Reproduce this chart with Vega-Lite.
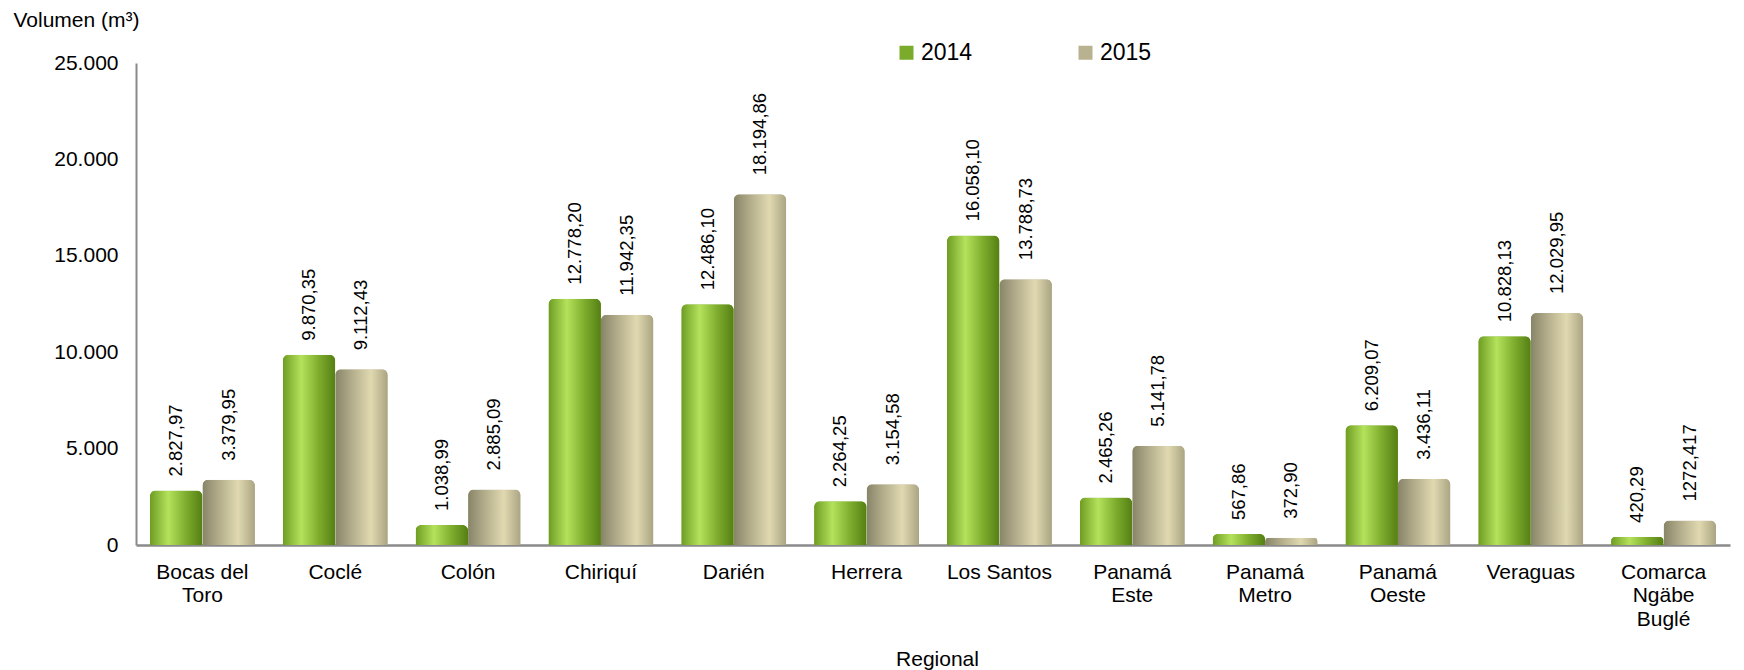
{
  "$schema": "https://vega.github.io/schema/vega-lite/v6.json",
  "autosize": {"type": "none"},
  "padding": {"left": 136, "top": 63, "right": 14, "bottom": 125},
  "width": 1594,
  "height": 482,
  "background": "white",
  "config": {
    "font": "Liberation Sans",
    "view": {"stroke": null},
    "text": {"font": "Liberation Sans"}
  },
  "data": {
    "values": [
      {"regional": "Bocas del Toro", "year": "2014", "volumen": 2827.97, "label": "2.827,97"},
      {"regional": "Bocas del Toro", "year": "2015", "volumen": 3379.95, "label": "3.379,95"},
      {"regional": "Coclé", "year": "2014", "volumen": 9870.35, "label": "9.870,35"},
      {"regional": "Coclé", "year": "2015", "volumen": 9112.43, "label": "9.112,43"},
      {"regional": "Colón", "year": "2014", "volumen": 1038.99, "label": "1.038,99"},
      {"regional": "Colón", "year": "2015", "volumen": 2885.09, "label": "2.885,09"},
      {"regional": "Chiriquí", "year": "2014", "volumen": 12778.20, "label": "12.778,20"},
      {"regional": "Chiriquí", "year": "2015", "volumen": 11942.35, "label": "11.942,35"},
      {"regional": "Darién", "year": "2014", "volumen": 12486.10, "label": "12.486,10"},
      {"regional": "Darién", "year": "2015", "volumen": 18194.86, "label": "18.194,86"},
      {"regional": "Herrera", "year": "2014", "volumen": 2264.25, "label": "2.264,25"},
      {"regional": "Herrera", "year": "2015", "volumen": 3154.58, "label": "3.154,58"},
      {"regional": "Los Santos", "year": "2014", "volumen": 16058.10, "label": "16.058,10"},
      {"regional": "Los Santos", "year": "2015", "volumen": 13788.73, "label": "13.788,73"},
      {"regional": "Panamá Este", "year": "2014", "volumen": 2465.26, "label": "2.465,26"},
      {"regional": "Panamá Este", "year": "2015", "volumen": 5141.78, "label": "5.141,78"},
      {"regional": "Panamá Metro", "year": "2014", "volumen": 567.86, "label": "567,86"},
      {"regional": "Panamá Metro", "year": "2015", "volumen": 372.90, "label": "372,90"},
      {"regional": "Panamá Oeste", "year": "2014", "volumen": 6209.07, "label": "6.209,07"},
      {"regional": "Panamá Oeste", "year": "2015", "volumen": 3436.11, "label": "3.436,11"},
      {"regional": "Veraguas", "year": "2014", "volumen": 10828.13, "label": "10.828,13"},
      {"regional": "Veraguas", "year": "2015", "volumen": 12029.95, "label": "12.029,95"},
      {"regional": "Comarca Ngäbe Buglé", "year": "2014", "volumen": 420.29, "label": "420,29"},
      {"regional": "Comarca Ngäbe Buglé", "year": "2015", "volumen": 1272.417, "label": "1272,417"}
    ]
  },
  "encoding": {
    "x": {
      "field": "regional",
      "type": "nominal",
      "sort": null,
      "scale": {"paddingInner": 0.21, "paddingOuter": 0.105},
      "axis": {
        "title": "Regional",
        "titleFontSize": 21,
        "titleFontWeight": "normal",
        "titleColor": "black",
        "titleX": 801,
        "titleY": 114,
        "titleBaseline": "middle",
        "titleAnchor": null,
        "titleAlign": "center",
        "labelAngle": 0,
        "labelFontSize": 21,
        "labelColor": "black",
        "labelPadding": 16,
        "labelLineHeight": 23.5,
        "labelBaseline": "top",
        "labelLimit": 300,
        "labelExpr": "datum.label == 'Bocas del Toro' ? ['Bocas del', 'Toro'] : (datum.label == 'Los Santos' ? datum.label : split(datum.label, ' '))",
        "ticks": false,
        "domainColor": "#8a8a8a",
        "domainWidth": 2.5,
        "grid": false
      }
    },
    "xOffset": {"field": "year", "type": "nominal", "scale": {"paddingInner": 0, "paddingOuter": 0}},
    "y": {
      "field": "volumen",
      "type": "quantitative",
      "scale": {"domain": [0, 25000], "nice": false},
      "axis": {
        "title": "Volumen (m³)",
        "titleFontSize": 21,
        "titleFontWeight": "normal",
        "titleColor": "black",
        "titleAngle": 0,
        "titleAlign": "left",
        "titleBaseline": "middle",
        "titleAnchor": null,
        "titleX": -123,
        "titleY": -43,
        "values": [0, 5000, 10000, 15000, 20000, 25000],
        "labelExpr": "replace(format(datum.value, ','), ',', '.')",
        "labelFontSize": 21,
        "labelColor": "black",
        "labelPadding": 18,
        "ticks": false,
        "grid": false,
        "domainColor": "#8a8a8a",
        "domainWidth": 2
      }
    }
  },
  "layer": [
    {
      "mark": {"type": "bar", "cornerRadiusTopLeft": 6, "cornerRadiusTopRight": 6},
      "encoding": {
        "color": {
          "field": "year",
          "type": "nominal",
          "scale": {"domain": ["2014", "2015"], "range": ["#7aab2a", "#b9b290"]},
          "legend": {
            "title": null,
            "orient": "none",
            "direction": "horizontal",
            "legendX": 759,
            "legendY": -22,
            "symbolType": "square",
            "symbolSize": 196,
            "symbolStrokeWidth": 0,
            "labelFontSize": 23,
            "labelColor": "black",
            "labelOffset": 3,
            "columnPadding": 101,
            "padding": 0
          }
        }
      }
    },
    {
      "mark": {"type": "bar", "cornerRadiusTopLeft": 6, "cornerRadiusTopRight": 6},
      "encoding": {
        "color": {
          "condition": {
            "test": "datum.year == '2014'",
            "value": {
              "gradient": "linear", "x1": 0, "x2": 1, "y1": 0, "y2": 0,
              "stops": [
                {"offset": 0, "color": "#6e9c22"},
                {"offset": 0.35, "color": "#b4e25c"},
                {"offset": 0.7, "color": "#7cab2c"},
                {"offset": 1, "color": "#557f14"}
              ]
            }
          },
          "value": {
            "gradient": "linear", "x1": 0, "x2": 1, "y1": 0, "y2": 0,
            "stops": [
              {"offset": 0, "color": "#878468"},
              {"offset": 0.3, "color": "#b1ab8a"},
              {"offset": 0.68, "color": "#e0d9b0"},
              {"offset": 1, "color": "#aaa483"}
            ]
          }
        }
      }
    },
    {
      "transform": [{"filter": "datum.year == '2014'"}],
      "mark": {"type": "text", "angle": 270, "align": "left", "baseline": "middle", "dx": 14, "fontSize": 18.5, "color": "black"},
      "encoding": {
        "text": {"field": "label", "type": "nominal"}
      }
    },
    {
      "transform": [{"filter": "datum.year == '2015'"}],
      "mark": {"type": "text", "angle": 270, "align": "left", "baseline": "middle", "dx": 19, "fontSize": 18.5, "color": "black"},
      "encoding": {
        "text": {"field": "label", "type": "nominal"}
      }
    }
  ]
}
